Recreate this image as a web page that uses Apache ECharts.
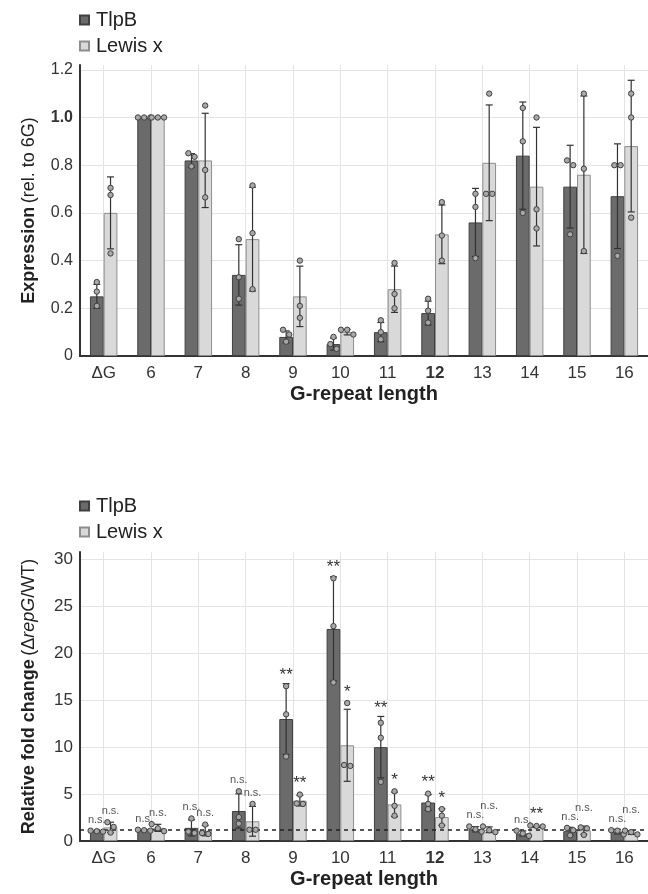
<!DOCTYPE html>
<html>
<head>
<meta charset="utf-8">
<script src="https://cdn.jsdelivr.net/npm/echarts@6/dist/echarts.min.js"></script>
<style>
  html, body { margin: 0; padding: 0; background: #fff; }
  #chart { width: 648px; height: 894px; }
</style>
</head>
<body>
<div id="chart"></div>
<script>
// categories (G-repeat length)
var categories = ['ΔG', '6', '7', '8', '9', '10', '11', '12', '13', '14', '15', '16'];

// top panel: expression rel. to 6G
var exprTlpB  = [0.25, 1.0, 0.82, 0.34, 0.08, 0.05, 0.10, 0.18, 0.56, 0.84, 0.71, 0.67];
var exprLewis = [0.60, 1.0, 0.82, 0.49, 0.25, 0.10, 0.28, 0.51, 0.81, 0.71, 0.76, 0.88];
var exprTlpBDots = [[0.31, 0.27, 0.21], [1, 1, 1], [0.85, 0.835, 0.795], [0.49, 0.33, 0.24],
  [0.11, 0.09, 0.06], [0.08, 0.05, 0.03], [0.15, 0.10, 0.07], [0.24, 0.19, 0.14],
  [0.68, 0.625, 0.41], [1.04, 0.90, 0.60], [0.82, 0.80, 0.51], [0.80, 0.80, 0.42]];
var exprLewisDots = [[0.705, 0.675, 0.43], [1, 1, 1], [1.05, 0.78, 0.665], [0.715, 0.515, 0.28],
  [0.40, 0.21, 0.16], [0.11, 0.11, 0.09], [0.39, 0.26, 0.20], [0.645, 0.505, 0.40],
  [1.10, 0.68, 0.68], [1.00, 0.615, 0.535], [1.10, 0.785, 0.44], [1.10, 1.00, 0.58]];

// bottom panel: relative fold change (ΔrepG/WT)
var foldTlpB  = [1.05, 1.15, 1.4, 3.2, 13.0, 22.6, 10.0, 4.1, 1.25, 0.8, 1.05, 1.0];
var foldLewis = [1.45, 1.4, 1.1, 2.1, 4.3, 10.2, 3.9, 2.55, 1.2, 1.5, 1.15, 0.9];
var foldTlpBDots = [[1.0, 1.05, 1.1], [1.1, 1.15, 1.2], [2.4, 1.0, 0.85], [5.3, 2.55, 1.85],
  [16.5, 13.5, 9.0], [28.0, 22.9, 16.9], [12.6, 11.0, 6.3], [5.05, 3.95, 3.4],
  [1.55, 1.25, 1.0], [1.1, 0.8, 0.55], [1.4, 1.15, 0.6], [1.15, 1.1, 0.7]];
var foldLewisDots = [[2.0, 1.5, 0.9], [1.8, 1.35, 1.05], [1.75, 0.85, 0.75], [3.95, 1.2, 1.2],
  [4.95, 4.0, 3.95], [14.7, 8.0, 8.1], [5.3, 3.75, 2.7], [3.4, 2.7, 1.65],
  [1.55, 1.15, 0.95], [1.55, 1.6, 1.65], [1.45, 1.35, 0.65], [1.1, 0.95, 0.7]];
var sigTlpB  = ['n.s.', 'n.s.', 'n.s.', 'n.s.', '**', '**', '**', '**', 'n.s.', 'n.s.', 'n.s.', 'n.s.'];
var sigLewis = ['n.s.', 'n.s.', 'n.s.', 'n.s.', '**', '*', '*', '*', 'n.s.', '**', 'n.s.', 'n.s.'];
var refLine = 1.25;

var FONT = '"Liberation Sans", Arial, sans-serif';
var BAR_FRAC = 0.29;   // bar width as part of category band
var DOT_R = 2.7;

// sample SD of the replicate dots
function sd(arr) {
  var m = 0, s = 0;
  arr.forEach(function(v){ m += v; });
  m = m / arr.length;
  arr.forEach(function(v){ s += (v - m) * (v - m); });
  return Math.sqrt(s / (arr.length - 1));
}

function rows(means, dots) {
  return means.map(function(m, i){
    return [i, m, sd(dots[i])].concat(dots[i]);
  });
}

// highest pixel (error cap or dot) of one bar
function markTop(api, i, mean, err, dots) {
  var top = api.coord([i, mean + err])[1];
  dots.forEach(function(d){ top = Math.min(top, api.coord([i, d])[1] - DOT_R); });
  return top;
}

// error bar + replicate dots (+ optional significance text) for one bar
// other = {means, dots, sigs} of the left bar, so right labels can step over it
function makeRender(side, sigs, other) {
  return function(params, api) {
    var i = api.value(0), mean = api.value(1), err = api.value(2);
    var band = api.size([1, 0])[0];
    var cx = api.coord([i, mean])[0] + side * band * BAR_FRAC / 2;
    var yTop = api.coord([i, mean + err])[1];
    var yBot = api.coord([i, Math.max(mean - err, 0)])[1];
    var children = [];
    var cap = 3.5;
    var ls = { stroke: '#333', lineWidth: 1.2 };
    if (err > 0.001) {
      children.push({ type: 'line', shape: { x1: cx, y1: yTop, x2: cx, y2: yBot }, style: ls });
      children.push({ type: 'line', shape: { x1: cx - cap, y1: yTop, x2: cx + cap, y2: yTop }, style: ls });
      children.push({ type: 'line', shape: { x1: cx - cap, y1: yBot, x2: cx + cap, y2: yBot }, style: ls });
    }
    var vals = [], ys = [];
    for (var k = 3; k < 6; k++) {
      vals.push(api.value(k));
      ys.push(api.coord([i, api.value(k)])[1]);
    }
    ys.sort(function(a, b){ return a - b; });
    // spread dots sideways when they sit on top of each other
    var groups = [], cur = [ys[0]];
    for (k = 1; k < ys.length; k++) {
      if (ys[k] - cur[cur.length - 1] < DOT_R * 1.8) cur.push(ys[k]);
      else { groups.push(cur); cur = [ys[k]]; }
    }
    groups.push(cur);
    groups.forEach(function(g){
      g.forEach(function(y, j){
        var dx = (j - (g.length - 1) / 2) * DOT_R * 2.3;
        children.push({ type: 'circle', shape: { cx: cx + dx, cy: y, r: DOT_R },
          style: { fill: '#a8a8a8', stroke: '#404040', lineWidth: 1 } });
      });
    });
    if (sigs) {
      var s = sigs[params.dataIndex];
      var top = markTop(api, i, mean, err, vals);
      if (other && s === 'n.s.' && other.sigs[i] === 'n.s.') {
        var oTop = markTop(api, i, other.means[i], sd(other.dots[i]), other.dots[i]);
        if (Math.abs(top - oTop) < 4) top = oTop - 9;
      }
      var star = s !== 'n.s.';
      children.push({ type: 'text', style: {
        text: s, x: cx, y: top + (star ? 0 : -3), align: 'center', verticalAlign: 'bottom',
        fontSize: star ? 17 : 11, fontFamily: FONT, fill: star ? '#333' : '#555'
      } });
    }
    return { type: 'group', children: children };
  };
}

function xAxisFor(gridIndex) {
  return {
    type: 'category', gridIndex: gridIndex, data: categories,
    axisLine: { lineStyle: { color: '#333', width: 2 } },
    axisTick: { show: false },
    axisLabel: {
      interval: 0, margin: 9, fontSize: 17, color: '#333', fontFamily: FONT,
      formatter: function(v){ return v === '12' ? '{b|12}' : v; },
      rich: { b: { fontWeight: 'bold', fontSize: 17, color: '#333', fontFamily: FONT } }
    },
    splitLine: { show: true, alignWithLabel: true, lineStyle: { color: '#e4e4e4', width: 1 } },
    name: 'G-repeat length', nameLocation: 'middle', nameGap: 28, nameMoveOverlap: false,
    nameTextStyle: { fontWeight: 'bold', fontSize: 20, color: '#222', fontFamily: FONT }
  };
}

var nameRich = {
  b: { fontWeight: 'bold', fontSize: 18, color: '#222', fontFamily: FONT },
  n: { fontSize: 18, color: '#222', fontFamily: FONT },
  i: { fontSize: 18, fontStyle: 'italic', color: '#222', fontFamily: FONT }
};

function barStyle(dark) {
  return dark ? { color: '#6b6b6b', borderColor: '#404040', borderWidth: 1 }
              : { color: '#d9d9d9', borderColor: '#8e8e8e', borderWidth: 1 };
}

function legendAt(top) {
  return {
    orient: 'vertical', left: 74, top: top, itemWidth: 9, itemHeight: 9, itemGap: 6,
    icon: 'rect', selectedMode: false,
    textStyle: { fontSize: 20, color: '#222', fontFamily: FONT, padding: [0, 0, 0, 2] },
    data: ['TlpB', 'Lewis x']
  };
}

var chart = echarts.init(document.getElementById('chart'), null, { renderer: 'canvas' });
chart.setOption({
  animation: false,
  backgroundColor: '#fff',
  legend: [legendAt(5), legendAt(491)],
  grid: [
    { left: 80, top: 65, width: 576, height: 291 },
    { left: 80, top: 552, width: 576, height: 289 }
  ],
  xAxis: [xAxisFor(0), xAxisFor(1)],
  yAxis: [
    {
      type: 'value', gridIndex: 0, min: 0, max: 1.22, interval: 0.2,
      axisLine: { show: true, lineStyle: { color: '#333', width: 2 } },
      axisTick: { show: false },
      splitLine: { lineStyle: { color: '#e4e4e4' }, showMaxLine: false },
      axisLabel: {
        fontSize: 16, color: '#333', margin: 7, fontFamily: FONT,
        formatter: function(v){
          if (Math.abs(v * 5 - Math.round(v * 5)) > 1e-6) return '';
          if (v === 0) return '0';
          if (Math.abs(v - 1) < 1e-9) return '{b|1.0}';
          return v.toFixed(1);
        },
        rich: { b: { fontWeight: 'bold', fontSize: 16, color: '#333', fontFamily: FONT } }
      },
      name: '{b|Expression} {n|(rel. to 6G)}', nameLocation: 'middle', nameGap: 42,
      nameMoveOverlap: false, nameTextStyle: { rich: nameRich }
    },
    {
      type: 'value', gridIndex: 1, min: 0, max: 30.8, interval: 5,
      axisLine: { show: true, lineStyle: { color: '#333', width: 2 } },
      axisTick: { show: false },
      splitLine: { lineStyle: { color: '#e4e4e4' }, showMaxLine: false },
      axisLabel: {
        fontSize: 17, color: '#333', margin: 7, fontFamily: FONT,
        formatter: function(v){ return v % 5 === 0 ? String(v) : ''; }
      },
      name: '{b|Relative fold change} {n|(Δ}{i|repG}{n|/WT)}', nameLocation: 'middle', nameGap: 42,
      nameMoveOverlap: false, nameTextStyle: { rich: nameRich }
    }
  ],
  series: [
    { name: 'TlpB', type: 'bar', xAxisIndex: 0, yAxisIndex: 0, data: exprTlpB,
      barWidth: (BAR_FRAC * 100) + '%', barGap: '0%', itemStyle: barStyle(true) },
    { name: 'Lewis x', type: 'bar', xAxisIndex: 0, yAxisIndex: 0, data: exprLewis,
      barWidth: (BAR_FRAC * 100) + '%', barGap: '0%', itemStyle: barStyle(false) },
    { name: 'TlpB', type: 'bar', xAxisIndex: 1, yAxisIndex: 1, data: foldTlpB,
      barWidth: (BAR_FRAC * 100) + '%', barGap: '0%', itemStyle: barStyle(true),
      markLine: { silent: true, symbol: 'none', label: { show: false },
        lineStyle: { type: [4, 4], color: '#222', width: 1.5 },
        data: [{ yAxis: refLine }] } },
    { name: 'Lewis x', type: 'bar', xAxisIndex: 1, yAxisIndex: 1, data: foldLewis,
      barWidth: (BAR_FRAC * 100) + '%', barGap: '0%', itemStyle: barStyle(false) },
    { type: 'custom', xAxisIndex: 0, yAxisIndex: 0, z: 5, clip: false, silent: true,
      data: rows(exprTlpB, exprTlpBDots), encode: { x: 0, y: 1 }, renderItem: makeRender(-1, null) },
    { type: 'custom', xAxisIndex: 0, yAxisIndex: 0, z: 5, clip: false, silent: true,
      data: rows(exprLewis, exprLewisDots), encode: { x: 0, y: 1 }, renderItem: makeRender(1, null) },
    { type: 'custom', xAxisIndex: 1, yAxisIndex: 1, z: 5, clip: false, silent: true,
      data: rows(foldTlpB, foldTlpBDots), encode: { x: 0, y: 1 }, renderItem: makeRender(-1, sigTlpB) },
    { type: 'custom', xAxisIndex: 1, yAxisIndex: 1, z: 5, clip: false, silent: true,
      data: rows(foldLewis, foldLewisDots), encode: { x: 0, y: 1 },
      renderItem: makeRender(1, sigLewis, { means: foldTlpB, dots: foldTlpBDots, sigs: sigTlpB }) }
  ]
});
</script>
</body>
</html>
